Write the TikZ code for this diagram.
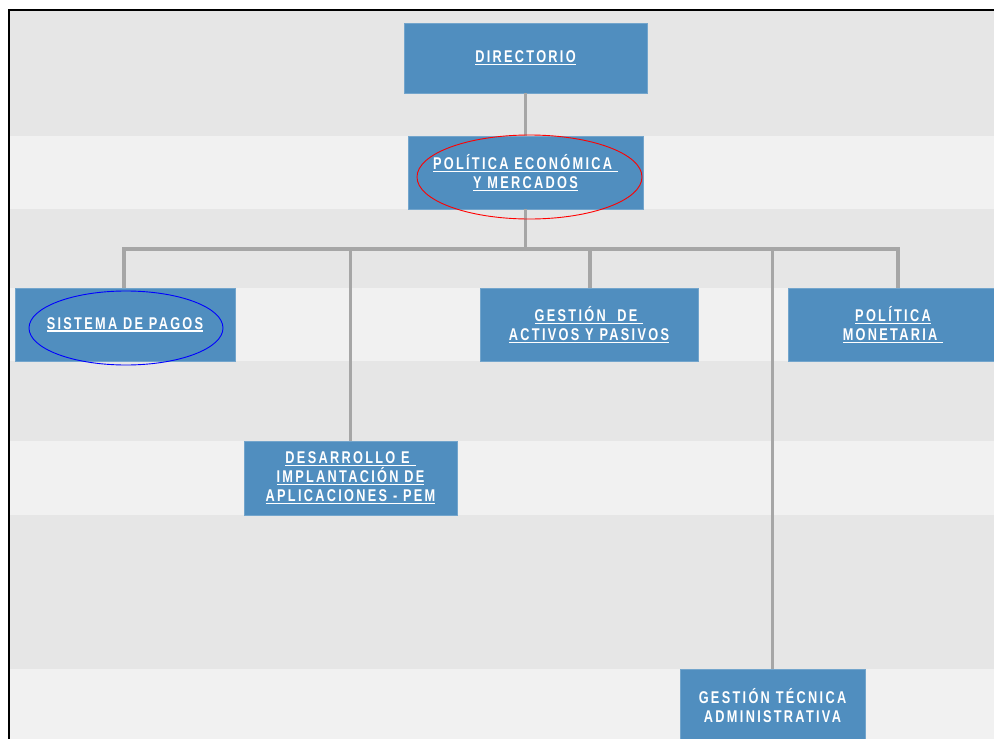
\documentclass[tikz,border=0pt]{standalone}
\usepackage{fontspec}
\usetikzlibrary{shapes.geometric}
\newfontfamily\boxfont{Liberation Sans}[FakeStretch=0.75, LetterSpace=13.5]
\definecolor{bandA}{HTML}{E6E6E6}
\definecolor{bandB}{HTML}{F1F1F1}
\definecolor{unitblue}{HTML}{508EBF}
\definecolor{linkgray}{HTML}{A6A6A6}
% underline a line of text with a white bar
\newcommand\ulin[1]{\setbox0=\hbox{#1}\rlap{\color{white}\rule[-2.8pt]{\wd0}{1.4pt}}\box0}
\tikzset{
  unit/.style={fill=unitblue, draw=unitblue!80!white, line width=0.6pt, text=white,
    align=center, inner sep=0pt,
    font=\boxfont\bfseries\fontsize{17}{19}\selectfont},
  conn/.style={draw=linkgray, line width=3.2pt},
  ring/.style={ellipse, line width=0.9pt, inner sep=0pt}
}
\begin{document}
\begin{tikzpicture}[x=1pt, y=-1pt]
\useasboundingbox (0,0) rectangle (994,739);
% horizontal background bands
\fill[white] (0,0) rectangle (994,739);
\fill[bandA] (9,10) rectangle (994,136);
\fill[bandB] (9,136) rectangle (994,209);
\fill[bandA] (9,209) rectangle (994,288);
\fill[bandB] (9,288) rectangle (994,361);
\fill[bandA] (9,361) rectangle (994,441);
\fill[bandB] (9,441) rectangle (994,515);
\fill[bandA] (9,515) rectangle (994,669);
\fill[bandB] (9,669) rectangle (994,739);
% outer frame
\draw[line width=2.5pt] (9,739) -- (9,10) -- (994,10);

% units
\node[unit, minimum width=243, minimum height=70] (dir) at (525.5,58) {\ulin{DIRECTORIO}};
\node[unit, minimum width=235, minimum height=73] (pem) at (525.5,172.5)
  {\ulin{POLÍTICA ECONÓMICA\ }\\\ulin{Y MERCADOS}};
\node[unit, minimum width=220, minimum height=73] (sp) at (125,324.5) {\ulin{SISTEMA DE PAGOS}};
\node[unit, minimum width=218, minimum height=73] (gap) at (589,324.5)
  {\ulin{GESTIÓN\ \ DE\ }\\\ulin{ACTIVOS Y PASIVOS}};
\node[unit, minimum width=210, minimum height=73] (pm) at (893,324.5)
  {\ulin{POLÍTICA}\\\ulin{MONETARIA\ }};
\node[unit, minimum width=213, minimum height=74] (dia) at (350.5,478)
  {\ulin{DESARROLLO E\ }\\\ulin{IMPLANTACIÓN DE}\\\ulin{APLICACIONES - PEM}};
\node[unit, minimum width=185, minimum height=74] (gta) at (772.5,706)
  {GESTIÓN TÉCNICA\\ADMINISTRATIVA};

% connectors
\coordinate (bus) at (0,249);
\draw[conn] (dir.south) -- (pem.north);
\draw[conn] (pem.south) -- (pem.south |- bus);
\draw[conn] ([xshift=-1pt]sp.north) |- (pem.south |- bus) -| ([xshift=5pt]pm.north);
\draw[conn] (dia.north) -- (dia.north |- bus);
\draw[conn] ([xshift=1pt]gap.north) -- ([xshift=1pt]gap.north |- bus);
\draw[conn] (gta.north) -- (gta.north |- bus);

% highlight rings
\node[ring, draw=red, minimum width=225, minimum height=84] (ringpem) at (529.5,177) {};
\node[ring, draw=blue, minimum width=194, minimum height=74] (ringsp) at (126,328) {};
\end{tikzpicture}
\end{document}
